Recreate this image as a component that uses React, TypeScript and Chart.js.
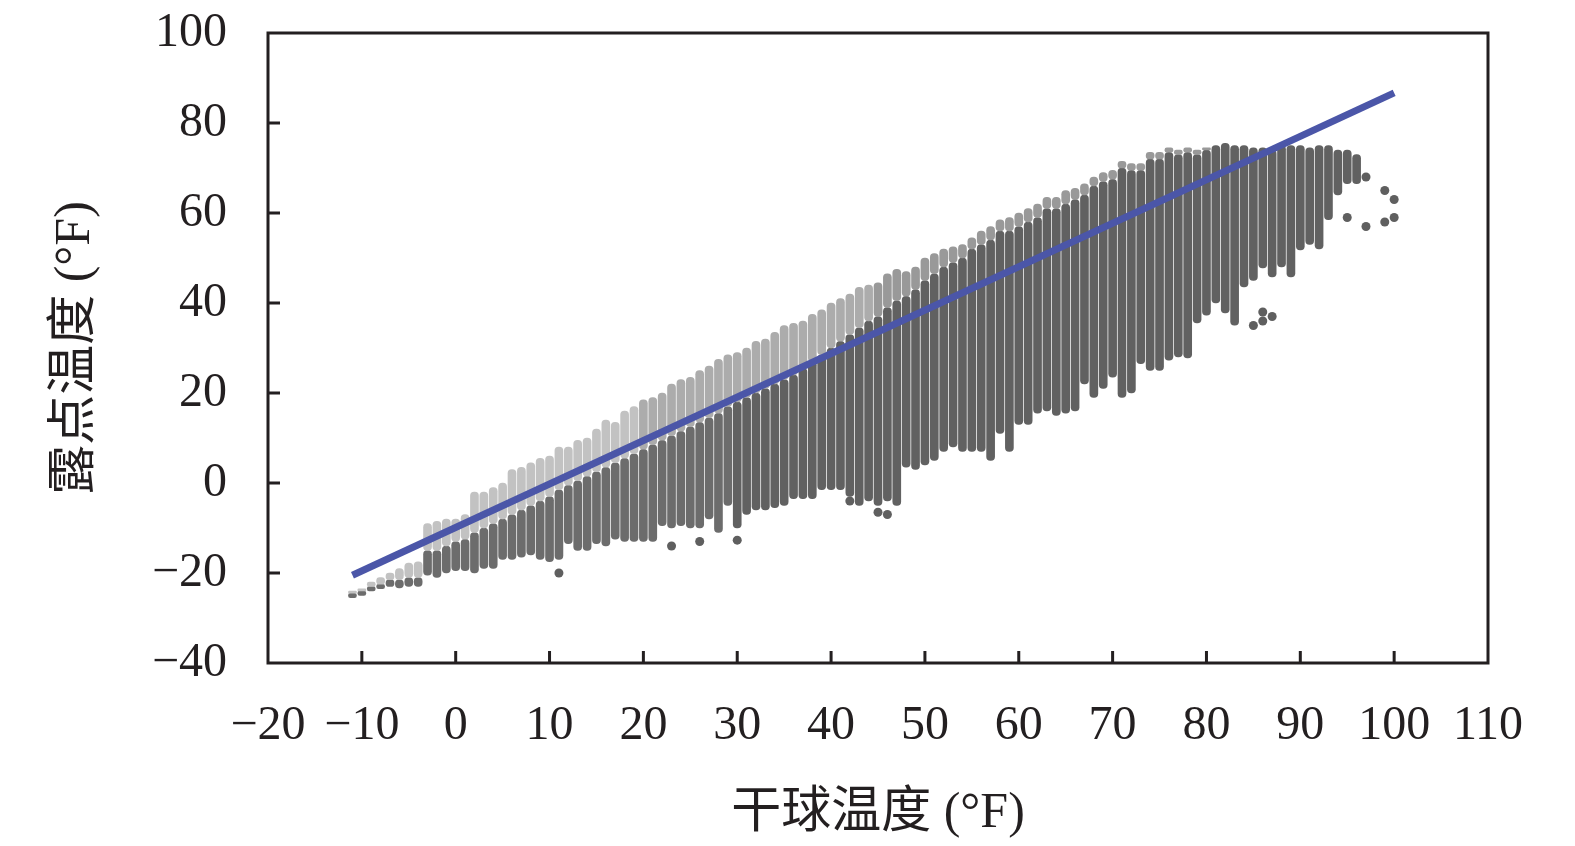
import { useEffect, useRef } from "react"
import { Chart, registerables } from "chart.js"

Chart.register(...registerables)

// dry-bulb columns (°F) and dew-point ranges
const dryBulb = [
  -11, -10, -9, -8, -7, -6, -5, -4, -3, -2,
  -1, 0, 1, 2, 3, 4, 5, 6, 7, 8,
  9, 10, 11, 12, 13, 14, 15, 16, 17, 18,
  19, 20, 21, 22, 23, 24, 25, 26, 27, 28,
  29, 30, 31, 32, 33, 34, 35, 36, 37, 38,
  39, 40, 41, 42, 43, 44, 45, 46, 47, 48,
  49, 50, 51, 52, 53, 54, 55, 56, 57, 58,
  59, 60, 61, 62, 63, 64, 65, 66, 67, 68,
  69, 70, 71, 72, 73, 74, 75, 76, 77, 78,
  79, 80, 81, 82, 83, 84, 85, 86, 87, 88,
  89, 90, 91, 92, 93, 94, 95, 96,
]

const dewTop = [
  -24, -23.5, -22, -21, -20, -19, -17.8, -17.5, -9, -8.5,
  -8, -8, -7, -2, -2, -1, 0, 3, 3.5, 4.5,
  5.5, 6, 8, 8, 9.5, 10, 12, 14, 13.5, 16,
  17, 18.5, 19, 20, 22, 23, 23.5, 25, 26, 27.5,
  28.5, 29, 30, 31.5, 32, 33.5, 35, 35.5, 36, 37.5,
  38.5, 40, 41, 42, 43.5, 44, 44.5, 46.5, 47.5, 47,
  48, 50, 51, 52, 52.5, 53, 54.5, 56, 57, 58.5,
  59, 60, 61, 62, 63.5, 63.5, 65, 65.5, 66.5, 68,
  69, 69.5, 71.5, 71, 71, 73.5, 73.5, 74.5, 74, 74.5,
  74, 74.5, 75, 75.5, 75, 75, 74.5, 74.5, 74, 75,
  75, 75, 74.5, 75, 75, 74, 74, 73,
]

// lower edge of the lighter upper band
const dewSplit = [
  -24.5, -24, -23, -22.5, -21.5, -21.5, -21, -21, -15, -15,
  -14, -13, -12.5, -11, -10, -9, -8, -7, -6, -5,
  -4, -3, -1.5, -0.5, 0.5, 1.5, 2.5, 3.5, 4.5, 5.5,
  6.5, 7.5, 8.5, 9.5, 10.5, 11.5, 12.5, 13.5, 14.5, 15.5,
  17, 18, 19, 20, 21, 22, 23, 24, 25.5, 27,
  28.5, 30, 31.5, 33, 34.5, 36, 37, 39, 40.5, 41.5,
  43, 45, 46.5, 48, 49, 50, 52, 53, 54, 56,
  56, 57, 58, 59, 61, 61, 62, 63, 64, 66,
  67, 67.5, 70, 69.5, 69.5, 72, 72, 73.5, 73, 73.5,
  73, 74, 75, 75.5, 75, 75, 74.5, 74.5, 74, 75,
  75, 75, 74.5, 75, 75, 74, 74, 73,
]

const dewBottom = [
  -25.5, -25, -24, -23.5, -23, -23.3, -23, -23, -20.5, -21,
  -20, -19.5, -19.5, -20, -19, -19, -17, -17, -16.5, -16,
  -17, -17.5, -17, -13.5, -15, -15, -13.5, -14, -12.5, -13,
  -13, -13, -13, -9.5, -10, -9.5, -10, -10, -8, -11,
  -5, -10, -7, -6, -6, -5.5, -5, -3.5, -3.5, -3.5,
  -1.5, -1.5, -1.5, -3, -5, -4, -5, -4, -5, 3.5,
  3, 4, 5, 7, 8, 7, 7, 7, 5, 11,
  7, 13, 13, 15.5, 16, 15, 15.5, 16, 22, 19,
  21, 23.5, 19, 20, 26.5, 25, 25, 27.3, 28, 27.8,
  35.6, 37.3, 40, 37.8, 35.1, 43.6, 45, 47.8, 45.8, 48,
  45.8, 51.8, 53, 52, 58.5, 64, 66.5, 66.5,
]

// isolated readings outside the main band
const outlierX = [11, 23, 26, 30, 42, 45, 46, 85, 86, 86, 87, 95, 97, 97, 99, 99, 100, 100]
const outlierY = [-20, -14, -13, -12.7, -4, -6.5, -7, 35, 38, 36, 37, 59, 68, 57, 65, 58, 63, 59]

// fitted line end points
const fitX = [-11, 100]
const fitY = [-20.5, 86.7]

const xTicks = [-20, -10, 0, 10, 20, 30, 40, 50, 60, 70, 80, 90, 100, 110]
const yTicks = [-40, -20, 0, 20, 40, 60, 80, 100]

const ink = "#231f20"
const serif = "'Liberation Serif', 'Times New Roman', serif"
const titleFont = "'Liberation Serif', 'Noto Sans CJK SC', serif"

const minus = (v: number | string) => String(v).replace("-", "\u2212")

// upper band is mostly pale on the cold side and mixed further right
const lightShade = (c: any) => {
  const x = c.raw?.x ?? 0
  return x < 20 ? "#c2c2c2" : x < 45 ? "#acacac" : "#999999"
}
const darkShade = (c: any) => {
  const x = c.raw?.x ?? 0
  return x < 30 ? "#6c6c6c" : "#616161"
}

const frame = {
  id: "frame",
  afterDraw(chart: any) {
    const { ctx, chartArea: a, scales } = chart
    ctx.save()
    ctx.strokeStyle = ink
    ctx.lineWidth = 3
    ctx.beginPath()
    xTicks.slice(1, -1).forEach((t) => {
      const px = scales.x.getPixelForValue(t)
      ctx.moveTo(px, a.bottom)
      ctx.lineTo(px, a.bottom - 12)
    })
    yTicks.slice(1, -1).forEach((t) => {
      const py = scales.y.getPixelForValue(t)
      ctx.moveTo(a.left, py)
      ctx.lineTo(a.left + 12, py)
    })
    ctx.stroke()
    ctx.strokeRect(a.left, a.top, a.right - a.left, a.bottom - a.top)
    ctx.restore()
  },
}

const noOverhang = (s: any) => {
  s.paddingTop = 0
  s.paddingBottom = 0
  s.paddingLeft = 0
  s.paddingRight = 0
}

export default function App() {
  const canvasRef = useRef<HTMLCanvasElement>(null)

  useEffect(() => {
    const ctx = canvasRef.current?.getContext("2d")
    if (!ctx) return

    const light = dryBulb.map((x, i) =>
      dewSplit[i] < dewTop[i] ? { x, y: [dewSplit[i], dewTop[i]] } : { x, y: null }
    )
    const dark = dryBulb.map((x, i) => ({ x, y: [dewBottom[i], dewSplit[i]] }))

    const chart = new Chart(ctx, {
      type: "bar",
      data: {
        datasets: [
          {
            type: "line",
            data: fitX.map((x, i) => ({ x, y: fitY[i] })),
            borderColor: "#4b56a8",
            borderWidth: 7,
            pointRadius: 0,
            fill: false,
          },
          {
            type: "scatter",
            data: outlierX.map((x, i) => ({ x, y: outlierY[i] })),
            backgroundColor: "#5f5f5f",
            borderWidth: 0,
            pointRadius: 4.5,
          },
          {
            type: "bar",
            data: light as any,
            backgroundColor: lightShade,
            barThickness: 8,
            borderRadius: 4,
            borderSkipped: false,
            grouped: false,
          },
          {
            type: "bar",
            data: dark as any,
            backgroundColor: darkShade,
            barThickness: 8,
            borderRadius: 4,
            borderSkipped: false,
            grouped: false,
          },
        ],
      } as any,
      options: {
        responsive: true,
        maintainAspectRatio: false,
        animation: false,
        layout: { padding: { top: 33, right: 87, left: 0, bottom: 0 } },
        plugins: {
          legend: { display: false },
          tooltip: { enabled: false },
        },
        scales: {
          x: {
            type: "linear",
            min: -20,
            max: 110,
            offset: false,
            grid: { display: false, drawTicks: false },
            border: { display: false },
            afterBuildTicks: (s: any) => {
              s.ticks = xTicks.map((value) => ({ value }))
            },
            afterFit: (s: any) => {
              s.height = 183
              noOverhang(s)
            },
            ticks: {
              autoSkip: false,
              maxRotation: 0,
              padding: 35,
              color: ink,
              font: { family: serif, size: 48 },
              callback: (v: any) => minus(v),
            },
            title: {
              display: true,
              text: "干球温度 (°F)",
              color: ink,
              font: { family: titleFont, size: 50 },
              padding: { top: 0, bottom: 2 },
            },
          },
          y: {
            type: "linear",
            min: -40,
            max: 100,
            grid: { display: false, drawTicks: false },
            border: { display: false },
            afterBuildTicks: (s: any) => {
              s.ticks = yTicks.map((value) => ({ value }))
            },
            afterFit: (s: any) => {
              s.width = 268
              noOverhang(s)
            },
            ticks: {
              autoSkip: false,
              padding: 41,
              color: ink,
              font: { family: serif, size: 48 },
              callback: (v: any) => minus(v),
            },
            title: {
              display: true,
              text: "露点温度 (°F)",
              color: ink,
              font: { family: titleFont, size: 50 },
              padding: { top: 46, bottom: 0 },
            },
          },
        },
      },
      plugins: [frame],
    })

    return () => {
      chart.destroy()
    }
  }, [])

  return (
    <div style={{ position: "fixed", left: 0, top: 0, width: 1575, height: 846, background: "#fff" }}>
      <canvas ref={canvasRef}></canvas>
    </div>
  )
}
